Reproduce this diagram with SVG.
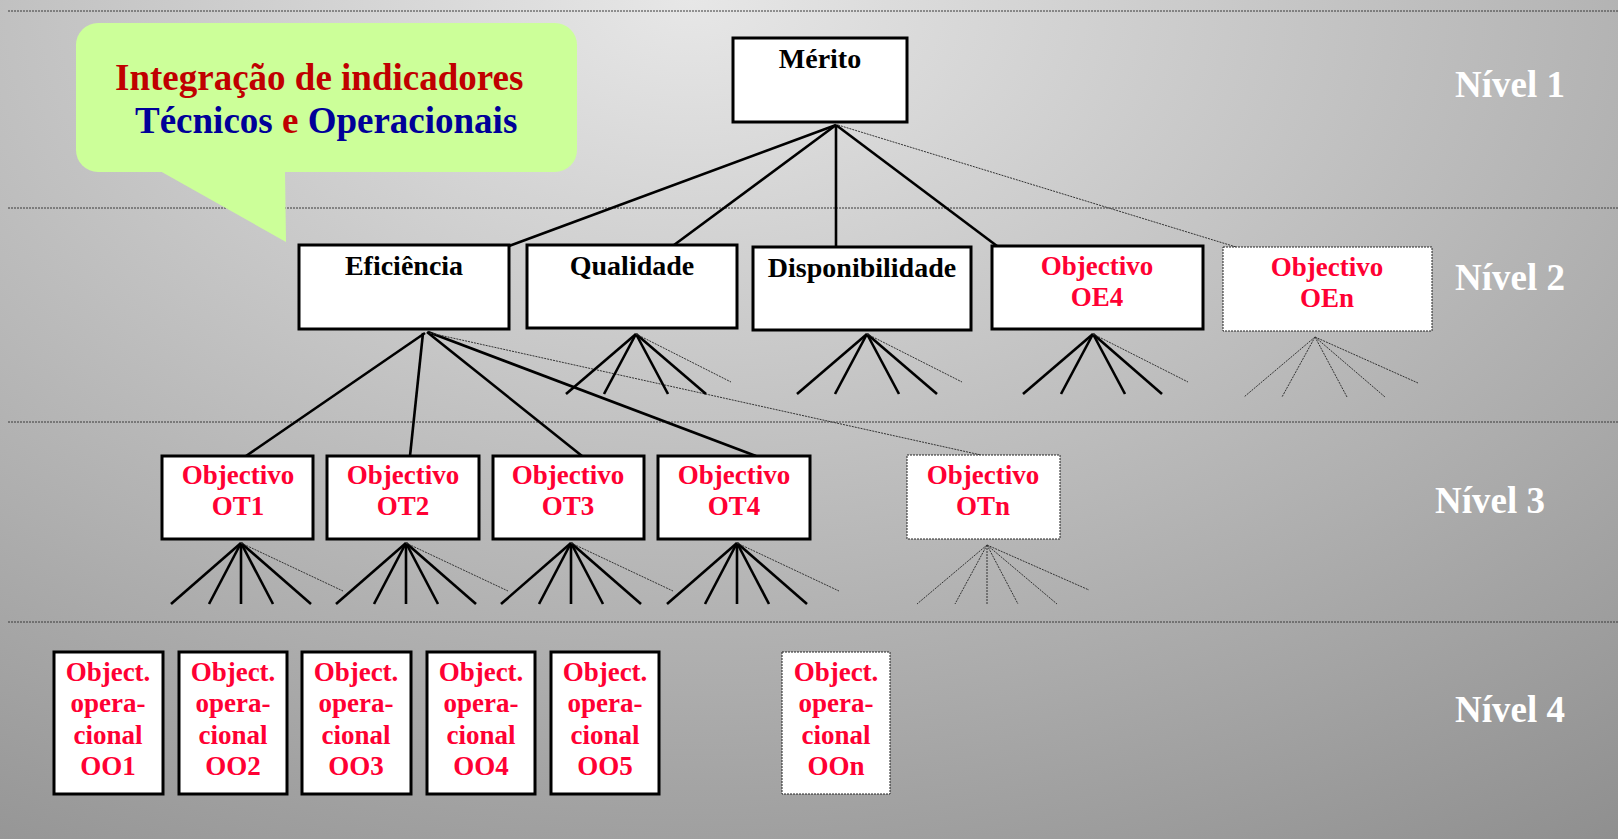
<svg xmlns="http://www.w3.org/2000/svg" width="1618" height="839" viewBox="0 0 1618 839">
<defs>
<radialGradient id="bg" gradientUnits="userSpaceOnUse" cx="0" cy="0" r="1600" gradientTransform="translate(690,0) scale(1,0.654)">
<stop offset="0" stop-color="#E7E7E7"/>
<stop offset="1" stop-color="#8E8E8E"/>
</radialGradient>
<style>
.sep{stroke:#3a3a3a;stroke-width:1;stroke-dasharray:2 1;fill:none}
.box{fill:#fff;stroke:#000;stroke-width:3}
.dbox{fill:#fff;stroke:#222;stroke-width:1;stroke-dasharray:2 1}
.c{stroke:#000;stroke-width:2.6;fill:none;stroke-linecap:butt}
.d{stroke:#333;stroke-width:1;stroke-dasharray:2 1;fill:none}
text{font-family:"Liberation Serif","Times New Roman",serif;font-weight:bold}
.k{font-size:28px;fill:#000;text-anchor:middle}
.r{font-size:27px;fill:#FF0033;text-anchor:middle}
.lvl{font-size:37px;fill:#fff}
.t{font-size:37px}
</style>
</defs>
<rect x="0" y="0" width="1618" height="839" fill="url(#bg)"/>
<g id="separators">
<line class="sep" x1="8" y1="11" x2="1618" y2="11"/>
<line class="sep" x1="8" y1="208" x2="1618" y2="208"/>
<line class="sep" x1="8" y1="422" x2="1618" y2="422"/>
<line class="sep" x1="8" y1="622" x2="1618" y2="622"/>
</g>
<g id="callout">
<rect x="76" y="23" width="501" height="149" rx="22" ry="22" fill="#CCFF99"/>
<polygon points="160,171 286,242 285,171" fill="#CCFF99"/>
<text class="t" x="115" y="90" fill="#C00000">Integração de indicadores</text>
<text class="t" x="135" y="133"><tspan fill="#000099">Técnicos</tspan> <tspan fill="#C00000">e</tspan> <tspan fill="#000099">Operacionais</tspan></text>
</g>
<g id="connectors">
<line class="c" x1="836" y1="125" x2="509" y2="246"/>
<line class="c" x1="836" y1="125" x2="674" y2="245"/>
<line class="c" x1="836" y1="125" x2="836" y2="247"/>
<line class="c" x1="836" y1="125" x2="997" y2="246"/>
<line class="d" x1="838" y1="125" x2="1236" y2="247"/>
<line class="c" x1="425" y1="333" x2="246" y2="456"/>
<line class="c" x1="423" y1="333" x2="410" y2="456"/>
<line class="c" x1="427" y1="332" x2="582" y2="456"/>
<line class="c" x1="428" y1="332" x2="756" y2="456"/>
<line class="d" x1="430" y1="333" x2="981" y2="455"/>
<g id="fan-qualidade">
<line class="c" x1="636" y1="334" x2="566" y2="394"/>
<line class="c" x1="636" y1="334" x2="604" y2="394"/>
<line class="c" x1="636" y1="334" x2="668" y2="394"/>
<line class="c" x1="636" y1="334" x2="706" y2="394"/>
<line class="d" x1="636" y1="334" x2="731" y2="382"/>
</g>
<g id="fan-disponibilidade">
<line class="c" x1="867" y1="334" x2="797" y2="394"/>
<line class="c" x1="867" y1="334" x2="835" y2="394"/>
<line class="c" x1="867" y1="334" x2="899" y2="394"/>
<line class="c" x1="867" y1="334" x2="937" y2="394"/>
<line class="d" x1="867" y1="334" x2="962" y2="382"/>
</g>
<g id="fan-oe4">
<line class="c" x1="1093" y1="334" x2="1023" y2="394"/>
<line class="c" x1="1093" y1="334" x2="1061" y2="394"/>
<line class="c" x1="1093" y1="334" x2="1125" y2="394"/>
<line class="c" x1="1093" y1="334" x2="1162" y2="394"/>
<line class="d" x1="1093" y1="334" x2="1188" y2="382"/>
</g>
<g id="fan-oen">
<line class="d" x1="1315" y1="337" x2="1244" y2="397"/>
<line class="d" x1="1315" y1="337" x2="1282" y2="397"/>
<line class="d" x1="1315" y1="337" x2="1347" y2="397"/>
<line class="d" x1="1315" y1="337" x2="1385" y2="397"/>
<line class="d" x1="1315" y1="337" x2="1418" y2="383"/>
</g>
<g id="fan-ot1">
<line class="c" x1="241" y1="543" x2="171" y2="604"/>
<line class="c" x1="241" y1="543" x2="209" y2="604"/>
<line class="c" x1="241" y1="543" x2="241" y2="604"/>
<line class="c" x1="241" y1="543" x2="273" y2="604"/>
<line class="c" x1="241" y1="543" x2="311" y2="604"/>
<line class="d" x1="241" y1="543" x2="343" y2="591"/>
</g>
<g id="fan-ot2">
<line class="c" x1="406" y1="543" x2="336" y2="604"/>
<line class="c" x1="406" y1="543" x2="374" y2="604"/>
<line class="c" x1="406" y1="543" x2="406" y2="604"/>
<line class="c" x1="406" y1="543" x2="438" y2="604"/>
<line class="c" x1="406" y1="543" x2="476" y2="604"/>
<line class="d" x1="406" y1="543" x2="508" y2="591"/>
</g>
<g id="fan-ot3">
<line class="c" x1="571" y1="543" x2="501" y2="604"/>
<line class="c" x1="571" y1="543" x2="539" y2="604"/>
<line class="c" x1="571" y1="543" x2="571" y2="604"/>
<line class="c" x1="571" y1="543" x2="603" y2="604"/>
<line class="c" x1="571" y1="543" x2="641" y2="604"/>
<line class="d" x1="571" y1="543" x2="673" y2="591"/>
</g>
<g id="fan-ot4">
<line class="c" x1="737" y1="543" x2="667" y2="604"/>
<line class="c" x1="737" y1="543" x2="705" y2="604"/>
<line class="c" x1="737" y1="543" x2="737" y2="604"/>
<line class="c" x1="737" y1="543" x2="769" y2="604"/>
<line class="c" x1="737" y1="543" x2="807" y2="604"/>
<line class="d" x1="737" y1="543" x2="839" y2="591"/>
</g>
<g id="fan-otn">
<line class="d" x1="987" y1="545" x2="917" y2="604"/>
<line class="d" x1="987" y1="545" x2="955" y2="604"/>
<line class="d" x1="987" y1="545" x2="987" y2="604"/>
<line class="d" x1="987" y1="545" x2="1018" y2="604"/>
<line class="d" x1="987" y1="545" x2="1057" y2="604"/>
<line class="d" x1="987" y1="545" x2="1089" y2="590"/>
</g>
</g>
<g id="merito"><rect class="box" x="733" y="38" width="174" height="84"/><text class="k" x="820" y="68">Mérito</text></g>
<g id="eficiencia"><rect class="box" x="299" y="245" width="210" height="84"/><text class="k" x="404" y="275">Eficiência</text></g>
<g id="qualidade"><rect class="box" x="527" y="245" width="210" height="83"/><text class="k" x="632" y="275">Qualidade</text></g>
<g id="disponibilidade"><rect class="box" x="753" y="247" width="218" height="83"/><text class="k" x="862" y="277">Disponibilidade</text></g>
<g id="oe4"><rect class="box" x="992" y="246" width="211" height="83"/><text class="r" x="1097" y="275">Objectivo</text><text class="r" x="1097" y="306">OE4</text></g>
<g id="oen"><rect class="dbox" x="1223" y="247" width="209" height="84"/><text class="r" x="1327" y="276">Objectivo</text><text class="r" x="1327" y="307">OEn</text></g>
<g id="ot1"><rect class="box" x="162" y="456" width="151" height="83"/><text class="r" x="238" y="484">Objectivo</text><text class="r" x="238" y="515">OT1</text></g>
<g id="ot2"><rect class="box" x="327" y="456" width="152" height="83"/><text class="r" x="403" y="484">Objectivo</text><text class="r" x="403" y="515">OT2</text></g>
<g id="ot3"><rect class="box" x="493" y="456" width="151" height="83"/><text class="r" x="568" y="484">Objectivo</text><text class="r" x="568" y="515">OT3</text></g>
<g id="ot4"><rect class="box" x="658" y="456" width="152" height="83"/><text class="r" x="734" y="484">Objectivo</text><text class="r" x="734" y="515">OT4</text></g>
<g id="otn"><rect class="dbox" x="907" y="455" width="153" height="84"/><text class="r" x="983" y="484">Objectivo</text><text class="r" x="983" y="515">OTn</text></g>
<g id="oo1"><rect class="box" x="54" y="652" width="109" height="142"/><text class="r" x="108" y="681">Object.</text><text class="r" x="108" y="712">opera-</text><text class="r" x="108" y="744">cional</text><text class="r" x="108" y="775">OO1</text></g>
<g id="oo2"><rect class="box" x="179" y="652" width="108" height="142"/><text class="r" x="233" y="681">Object.</text><text class="r" x="233" y="712">opera-</text><text class="r" x="233" y="744">cional</text><text class="r" x="233" y="775">OO2</text></g>
<g id="oo3"><rect class="box" x="302" y="652" width="109" height="142"/><text class="r" x="356" y="681">Object.</text><text class="r" x="356" y="712">opera-</text><text class="r" x="356" y="744">cional</text><text class="r" x="356" y="775">OO3</text></g>
<g id="oo4"><rect class="box" x="427" y="652" width="108" height="142"/><text class="r" x="481" y="681">Object.</text><text class="r" x="481" y="712">opera-</text><text class="r" x="481" y="744">cional</text><text class="r" x="481" y="775">OO4</text></g>
<g id="oo5"><rect class="box" x="551" y="652" width="108" height="142"/><text class="r" x="605" y="681">Object.</text><text class="r" x="605" y="712">opera-</text><text class="r" x="605" y="744">cional</text><text class="r" x="605" y="775">OO5</text></g>
<g id="oon"><rect class="dbox" x="782" y="652" width="108" height="142"/><text class="r" x="836" y="681">Object.</text><text class="r" x="836" y="712">opera-</text><text class="r" x="836" y="744">cional</text><text class="r" x="836" y="775">OOn</text></g>
<g id="levels">
<text class="lvl" x="1455" y="97">Nível 1</text>
<text class="lvl" x="1455" y="290">Nível 2</text>
<text class="lvl" x="1435" y="513">Nível 3</text>
<text class="lvl" x="1455" y="722">Nível 4</text>
</g>
</svg>
